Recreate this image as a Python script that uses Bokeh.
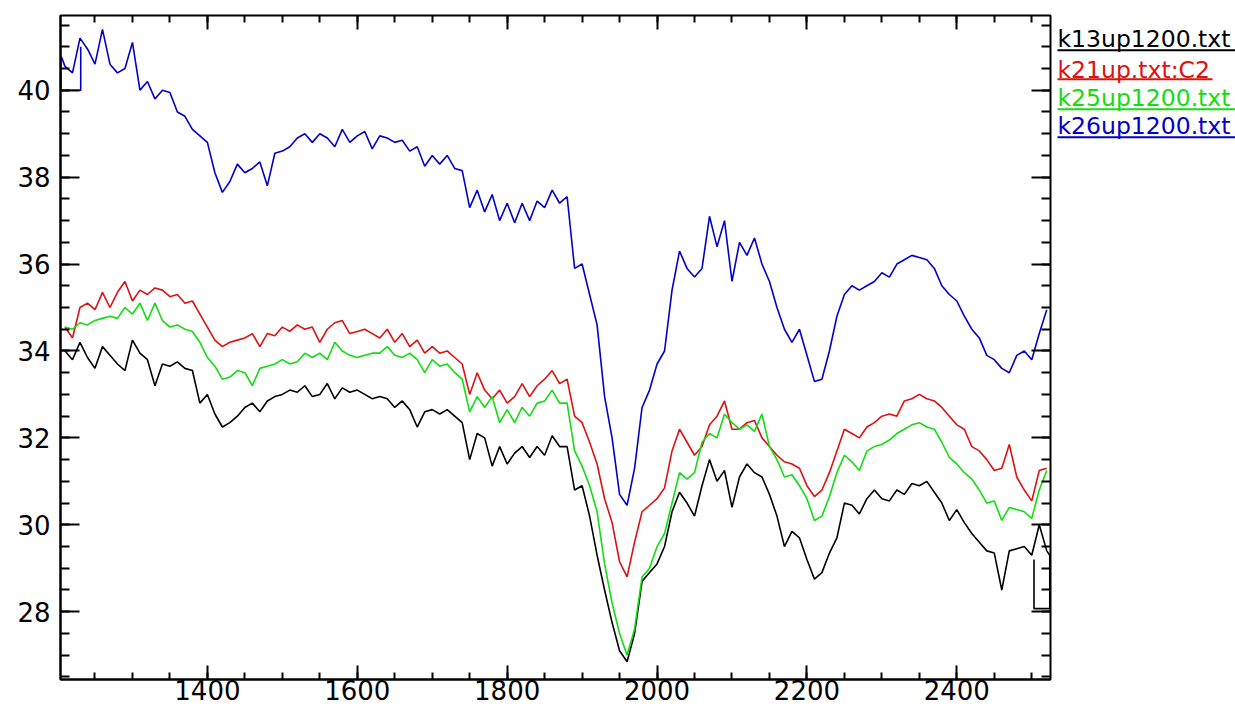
from bokeh.plotting import figure
from bokeh.models import Range1d, FixedTicker, LinearAxis, ColumnDataSource
from bokeh.layouts import row
from bokeh.core.properties import value
from bokeh.embed import file_html
from bokeh.resources import INLINE

# ---------------- data ----------------
wavenumber = list(range(1210, 2521, 10))

k13 = [34.0, 33.8, 34.2, 33.85, 33.6, 34.1, 33.9, 33.7, 33.55, 34.25,
       33.95, 33.8, 33.2, 33.7, 33.65, 33.75, 33.6, 33.55, 32.8, 33.0,
       32.55, 32.25, 32.35, 32.5, 32.7, 32.8, 32.6, 32.85, 32.95, 33.0,
       33.1, 33.05, 33.2, 32.95, 33.0, 33.25, 32.9, 33.15, 33.05, 33.1,
       33.0, 32.9, 32.95, 32.9, 32.7, 32.85, 32.65, 32.25, 32.6, 32.65,
       32.55, 32.65, 32.5, 32.35, 31.5, 32.1, 32.0, 31.35, 31.8, 31.4,
       31.65, 31.8, 31.55, 31.8, 31.6, 32.05, 31.8, 31.8, 30.8, 30.9,
       30.2, 29.3, 28.5, 27.75, 27.1, 26.85, 27.5, 28.7, 28.9, 29.1,
       29.5, 30.3, 30.75, 30.5, 30.2, 30.9, 31.5, 31.0, 31.25, 30.4,
       31.1, 31.4, 31.2, 31.1, 30.7, 30.2, 29.5, 29.85, 29.7, 29.2,
       28.75, 28.9, 29.35, 29.7, 30.5, 30.45, 30.25, 30.6, 30.8, 30.6,
       30.55, 30.8, 30.7, 30.95, 30.9, 31.0, 30.75, 30.5, 30.1, 30.35,
       30.05, 29.8, 29.6, 29.4, 29.35, 28.5, 29.4, 29.45, 29.5, 29.3,
       30.0, 29.4]
# trailing box drawn by the original trace
k13_tail_x = [2524, 2524, 2503, 2503]
k13_tail_y = [29.3, 28.07, 28.07, 29.2]

k21 = [34.55, 34.3, 35.0, 35.1, 34.95, 35.35, 35.0, 35.35, 35.6, 35.15,
       35.4, 35.3, 35.45, 35.4, 35.25, 35.3, 35.1, 35.15, 34.85, 34.55,
       34.25, 34.1, 34.2, 34.25, 34.3, 34.4, 34.1, 34.4, 34.35, 34.55,
       34.45, 34.6, 34.5, 34.55, 34.2, 34.5, 34.65, 34.7, 34.4, 34.45,
       34.5, 34.4, 34.3, 34.5, 34.2, 34.4, 34.1, 34.25, 33.95, 34.1,
       33.95, 34.0, 33.85, 33.7, 33.0, 33.5, 33.1, 32.9, 33.1, 32.8,
       32.95, 33.25, 32.95, 33.2, 33.35, 33.55, 33.25, 33.35, 32.5, 32.35,
       31.9, 31.4, 30.6, 30.05, 29.15, 28.8, 29.6, 30.3, 30.45, 30.6,
       30.85, 31.7, 32.2, 31.9, 31.6, 31.8, 32.3, 32.5, 32.85, 32.2,
       32.2, 32.35, 32.4, 32.0, 31.8, 31.6, 31.45, 31.4, 31.3, 30.9,
       30.65, 30.8, 31.2, 31.7, 32.2, 32.1, 32.0, 32.25, 32.35, 32.5,
       32.55, 32.5, 32.85, 32.9, 33.0, 32.9, 32.85, 32.7, 32.5, 32.3,
       32.2, 31.8, 31.7, 31.5, 31.25, 31.3, 31.85, 31.1, 30.8, 30.55,
       31.25, 31.3]

k25 = [34.55, 34.5, 34.65, 34.6, 34.7, 34.75, 34.8, 34.75, 35.0, 34.85,
       35.1, 34.7, 35.1, 34.7, 34.55, 34.6, 34.5, 34.45, 34.2, 33.85,
       33.65, 33.35, 33.4, 33.55, 33.5, 33.2, 33.6, 33.65, 33.7, 33.8,
       33.7, 33.75, 33.95, 33.85, 33.95, 33.8, 34.2, 34.0, 33.9, 33.85,
       33.9, 33.95, 33.95, 34.1, 33.9, 33.85, 33.95, 33.8, 33.5, 33.8,
       33.65, 33.7, 33.5, 33.35, 32.6, 32.95, 32.7, 32.95, 32.35, 32.65,
       32.35, 32.7, 32.5, 32.8, 32.85, 33.1, 32.8, 32.8, 31.7, 31.35,
       30.9, 30.3, 29.1, 28.2, 27.5, 27.0, 27.6, 28.8, 29.0, 29.5,
       29.8, 30.5, 31.2, 31.05, 31.2, 31.9, 32.1, 32.0, 32.55, 32.35,
       32.2, 32.3, 32.15, 32.55, 31.8, 31.5, 31.1, 31.15, 30.9, 30.6,
       30.1, 30.2, 30.65, 31.2, 31.6, 31.45, 31.25, 31.7, 31.8, 31.85,
       31.95, 32.1, 32.2, 32.3, 32.35, 32.25, 32.2, 31.9, 31.55, 31.4,
       31.2, 31.05, 30.8, 30.5, 30.55, 30.1, 30.4, 30.35, 30.3, 30.15,
       30.8, 31.25]

k26 = [40.55, 40.4, 41.2, 40.95, 40.6, 41.4, 40.6, 40.4, 40.5, 41.1,
       40.0, 40.2, 39.8, 40.0, 39.95, 39.5, 39.4, 39.1, 38.95, 38.8,
       38.1, 37.65, 37.9, 38.3, 38.1, 38.2, 38.35, 37.8, 38.55, 38.6,
       38.7, 38.9, 39.0, 38.8, 39.0, 38.9, 38.7, 39.1, 38.8, 38.95,
       39.05, 38.65, 38.95, 38.9, 38.8, 38.85, 38.6, 38.7, 38.25, 38.5,
       38.3, 38.5, 38.2, 38.15, 37.3, 37.7, 37.2, 37.6, 37.0, 37.4,
       36.95, 37.4, 37.0, 37.45, 37.3, 37.7, 37.4, 37.55, 35.9, 36.0,
       35.3, 34.6, 32.95, 32.0, 30.7, 30.45, 31.3, 32.7, 33.1, 33.7,
       34.0, 35.4, 36.3, 35.9, 35.7, 35.9, 37.1, 36.4, 37.0, 35.6,
       36.5, 36.2, 36.6, 36.0, 35.6, 35.0, 34.5, 34.2, 34.5, 33.9,
       33.3, 33.35, 34.0, 34.8, 35.3, 35.5, 35.4, 35.5, 35.6, 35.8,
       35.7, 36.0, 36.1, 36.2, 36.15, 36.1, 35.9, 35.5, 35.3, 35.15,
       34.8, 34.5, 34.3, 33.9, 33.8, 33.6, 33.5, 33.9, 34.0, 33.8,
       34.4, 34.95]
# leading box drawn by the original trace
k26_head_x = [1231, 1231, 1204.5, 1204.5]
k26_head_y = [41.0, 40.0, 40.0, 40.8]

series_names = ["k13up1200.txt", "k21up.txt:C2", "k25up1200.txt", "k26up1200.txt"]
series_colors = ["#000000", "#dd1111", "#11dd11", "#0000cc"]

x_major = [1400, 1600, 1800, 2000, 2200, 2400]
x_minor = list(range(1200, 2551, 50))
y_major = [28, 30, 32, 34, 36, 38, 40]
y_minor = [v / 2 for v in range(52, 85)]

# ---------------- main plot ----------------
W_TOTAL, H = 1235, 709
W1 = 1054
FONT = "DejaVu Sans"

p = figure(width=W1, height=H, output_backend="svg", toolbar_location=None,
           x_range=Range1d(1204, 2525), y_range=Range1d(26.44, 41.72),
           min_border_left=60, min_border_top=15, min_border_right=4,
           min_border_bottom=30)
p.grid.visible = False
p.background_fill_color = "white"
p.border_fill_color = "white"
p.outline_line_color = "black"
p.outline_line_width = 2

def style_axis(ax, ticks, minors, tin, min_in, labels=True):
    ax.ticker = FixedTicker(ticks=ticks, minor_ticks=minors)
    ax.major_tick_in = tin
    ax.major_tick_out = 0
    ax.minor_tick_in = min_in
    ax.minor_tick_out = 0
    ax.major_tick_line_color = "black"
    ax.minor_tick_line_color = "black"
    ax.major_tick_line_width = 2
    ax.minor_tick_line_width = 2
    ax.axis_line_color = "black"
    ax.axis_line_width = 2
    ax.major_label_text_font = FONT
    ax.major_label_text_color = "black"
    if labels:
        ax.major_label_text_font_size = "26px"
    else:
        ax.major_label_overrides = {t: "" for t in ticks}
        ax.major_label_standoff = 0
        ax.axis_line_color = None

style_axis(p.xaxis[0], x_major, x_minor, 14, 7)
p.xaxis[0].major_label_standoff = 0
style_axis(p.yaxis[0], y_major, y_minor, 19, 9)
p.yaxis[0].major_label_standoff = 10

top = LinearAxis()
style_axis(top, x_major, x_minor, 14, 7, labels=False)
p.add_layout(top, "above")
right = LinearAxis()
style_axis(right, y_major, y_minor, 19, 9, labels=False)
p.add_layout(right, "right")

lw = 1.6
p.line(wavenumber + k13_tail_x, k13 + k13_tail_y, line_color=series_colors[0], line_width=lw)
p.line(wavenumber, k21, line_color=series_colors[1], line_width=lw)
p.line(wavenumber, k25, line_color=series_colors[2], line_width=lw)
p.line(k26_head_x + wavenumber, k26_head_y + k26, line_color=series_colors[3], line_width=lw)

# ---------------- legend panel ----------------
W2 = W_TOTAL - W1
leg = figure(width=W2, height=H, output_backend="svg", toolbar_location=None,
             x_range=Range1d(0, W2), y_range=Range1d(H, 0),
             x_axis_type=None, y_axis_type=None, min_border=0)
leg.grid.visible = False
leg.outline_line_color = None
leg.background_fill_color = "white"
leg.border_fill_color = "white"

text_mid = [25, 58, 88, 118]
underline_y = [37, 68, 100, 130]
underline_end = [W2, 158, W2, W2]
src = ColumnDataSource(dict(x=[3] * 4, y=text_mid, text=series_names, color=series_colors))
leg.text(x="x", y="y", text="text", text_color="color", source=src,
         text_font=value(FONT), text_font_size="23.5px", text_baseline="middle",
         text_align="left")
leg.segment(x0=[3] * 4, y0=underline_y, x1=underline_end, y1=underline_y,
            line_color=series_colors, line_width=2)

layout = row(p, leg)
open("out.html", "w").write(file_html(layout, INLINE))
